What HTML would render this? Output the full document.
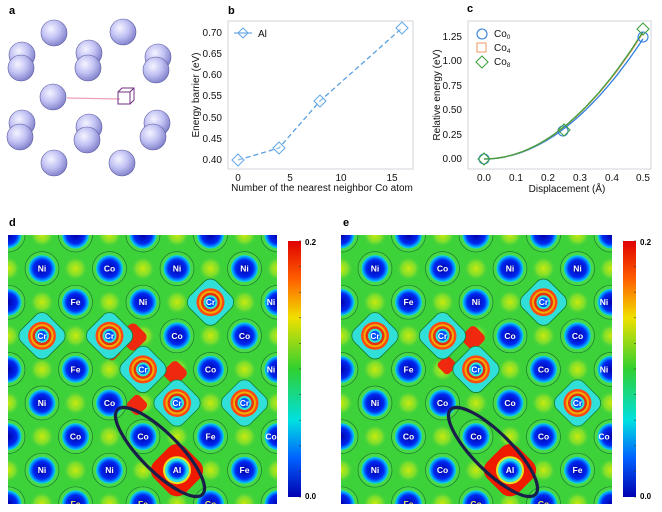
<!DOCTYPE html>
<html><head><meta charset="utf-8"><style>
body{margin:0;background:#fff;}
svg{display:block;font-family:"Liberation Sans",Arial,sans-serif;}
</style></head><body>
<svg id="s" width="662" height="512" viewBox="0 0 662 512" xmlns="http://www.w3.org/2000/svg">
<defs>
<radialGradient id="sph" cx="0.38" cy="0.35" r="0.7">
<stop offset="0" stop-color="#f4f4ff"/><stop offset="0.5" stop-color="#c2c2f4"/><stop offset="1" stop-color="#7c7cc8"/>
</radialGradient>
<radialGradient id="at" cx="0.5" cy="0.5" r="0.5">
<stop offset="0" stop-color="#0000a8"/><stop offset="0.65" stop-color="#0028f0"/><stop offset="0.85" stop-color="#0090ff"/><stop offset="1" stop-color="#10e0e0"/>
</radialGradient>
<radialGradient id="yel" cx="0.5" cy="0.5" r="0.5">
<stop offset="0" stop-color="#f0f000"/><stop offset="0.6" stop-color="#b0e820" stop-opacity="0.7"/><stop offset="1" stop-color="#40d040" stop-opacity="0"/>
</radialGradient>
<linearGradient id="cb" x1="0" y1="0" x2="0" y2="1">
<stop offset="0" stop-color="#e00000"/><stop offset="0.15" stop-color="#ff6000"/><stop offset="0.3" stop-color="#f0e000"/><stop offset="0.5" stop-color="#30d030"/><stop offset="0.7" stop-color="#00e0e0"/><stop offset="0.85" stop-color="#0060ff"/><stop offset="1" stop-color="#0000b0"/>
</linearGradient>
<clipPath id="cd"><rect x="8" y="235" width="269" height="269"/></clipPath>
<clipPath id="ce"><rect x="341" y="235" width="271" height="269"/></clipPath>
</defs>

<g font-weight="bold" font-size="11" fill="#000">
<text x="9" y="14">a</text><text x="228" y="14">b</text><text x="467" y="12">c</text>
<text x="9" y="226">d</text><text x="343" y="226">e</text>
</g>

<g id="pa" stroke="#5a5aa0" stroke-width="0.6"></g>
<line x1="67" y1="98" x2="120" y2="99" stroke="#f0a0b8" stroke-width="1.2"/>
<g fill="none" stroke="#703080" stroke-width="1">
<rect x="118" y="92" width="12" height="12"/><path d="M118 92 L122 88 L134 88 L134 100 L130 104 M130 92 L134 88"/>
</g>

<g font-size="10" fill="#111">
<rect x="228" y="21" width="185" height="148" fill="none" stroke="#d0d4dc" stroke-width="1"/>
<g text-anchor="end">
<text x="222" y="36">0.70</text><text x="222" y="57">0.65</text><text x="222" y="78">0.60</text><text x="222" y="99">0.55</text><text x="222" y="121">0.50</text><text x="222" y="142">0.45</text><text x="222" y="163">0.40</text>
</g>
<g text-anchor="middle">
<text x="238" y="181">0</text><text x="290" y="181">5</text><text x="341" y="181">10</text><text x="392" y="181">15</text>
<text x="322" y="191">Number of the nearest neighbor Co atom</text>
<text transform="translate(199,95) rotate(-90)">Energy barrier (eV)</text>
</g>
<polyline points="238,160 279,148 320,101 402,28" fill="none" stroke="#5aa0e0" stroke-width="1.3" stroke-dasharray="5,3"/>
<g fill="#fff" fill-opacity="0.3" stroke="#6aaae8" stroke-width="1.1">
<path d="M238 154 L244 160 L238 166 L232 160Z"/><path d="M279 142 L285 148 L279 154 L273 148Z"/><path d="M320 95 L326 101 L320 107 L314 101Z"/><path d="M402 22 L408 28 L402 34 L396 28Z"/>
<path d="M243 28 L248 33 L243 38 L238 33Z"/>
</g>
<line x1="234" y1="33" x2="252" y2="33" stroke="#6aaae8" stroke-width="1.2"/>
<text x="258" y="37">Al</text>
</g>

<g font-size="10" fill="#111">
<rect x="468" y="21" width="183" height="148" fill="none" stroke="#d0d4dc" stroke-width="1"/>
<g text-anchor="end">
<text x="462" y="40">1.25</text><text x="462" y="64">1.00</text><text x="462" y="89">0.75</text><text x="462" y="113">0.50</text><text x="462" y="138">0.25</text><text x="462" y="162">0.00</text>
</g>
<g text-anchor="middle">
<text x="484" y="181">0.0</text><text x="516" y="181">0.1</text><text x="548" y="181">0.2</text><text x="580" y="181">0.3</text><text x="612" y="181">0.4</text><text x="643" y="181">0.5</text>
<text x="567" y="192">Displacement (Å)</text>
<text transform="translate(440,95) rotate(-90)">Relative energy (eV)</text>
</g>
<path id="cblue" fill="none" stroke="#2f7fe0" stroke-width="1.3"/>
<path id="cor" fill="none" stroke="#e89050" stroke-width="1.3"/>
<path id="cgr" fill="none" stroke="#40a040" stroke-width="1.3"/>
<g fill="none" stroke-width="1.1">
<circle cx="484" cy="159" r="5" stroke="#2f7fe0"/><circle cx="563" cy="131" r="5" stroke="#2f7fe0"/><circle cx="643" cy="37" r="5" stroke="#2f7fe0"/>
<path d="M484 153 L490 159 L484 165 L478 159Z M564 124 L570 130 L564 136 L558 130Z M643 23 L649 29 L643 35 L637 29Z" stroke="#40a040"/>
<circle cx="482" cy="34" r="5" stroke="#2f7fe0"/><rect x="477" y="43" width="9" height="9" stroke="#f0a070"/><path d="M482 56 L488 62 L482 68 L476 62Z" stroke="#40a040"/>
</g>
<text x="494" y="37">Co<tspan font-size="6.5" dy="2">0</tspan></text>
<text x="494" y="51">Co<tspan font-size="6.5" dy="2">4</tspan></text>
<text x="494" y="65">Co<tspan font-size="6.5" dy="2">8</tspan></text>
</g>

<g id="pd" clip-path="url(#cd)"></g>
<g id="pe" clip-path="url(#ce)"></g>

<rect x="288" y="241" width="13" height="256" fill="url(#cb)"/>
<rect x="623" y="241" width="13" height="256" fill="url(#cb)"/>
<g font-size="8" font-weight="bold" fill="#000">
<text x="305" y="245">0.2</text><text x="305" y="499">0.0</text>
<text x="640" y="245">0.2</text><text x="640" y="499">0.0</text>
</g>
<g id="cbt" stroke="#333" stroke-width="0.6"></g>
</svg>
<script>
const NS="http://www.w3.org/2000/svg";
function el(p,t,a,txt){const e=document.createElementNS(NS,t);for(const k in a)e.setAttribute(k,a[k]);if(txt)e.textContent=txt;p.appendChild(e);return e;}
const pa=document.getElementById('pa');
[[54,33],[123,32],[22,55],[89,53],[158,57],[21,68],[88,68],[156,70],[53,97],[22,123],[89,127],[157,123],[20,137],[87,140],[153,137],[54,163],[122,163]].forEach(p=>el(pa,'circle',{cx:p[0],cy:p[1],r:13,fill:'url(#sph)'}));
function curve(id,a){let d='';for(let i=0;i<=50;i++){const x=i*0.01;const px=484+x*318,py=159-(a*x*x)*98;d+=(i?'L':'M')+px.toFixed(1)+' '+py.toFixed(1);}document.getElementById(id).setAttribute('d',d);}
curve('cblue',4.9);curve('cor',5.15);curve('cgr',5.2);
const cbt=document.getElementById('cbt');
for(let i=0;i<=10;i++){const y=241+i*25.6;el(cbt,'line',{x1:299,y1:y,x2:301,y2:y});el(cbt,'line',{x1:634,y1:y,x2:636,y2:y});}
function panel(id,ox,rows,reds){
 const g=document.getElementById(id);
 el(g,'rect',{x:ox+8,y:235,width:271,height:270,fill:'#3ed23a'});
 for(let r=0;r<=8;r++){const y=235+33.6*r;const odd=r%2;for(let j=0;j<5;j++){const x=ox+(odd?8+67.5*j:42+67.5*j);el(g,'ellipse',{cx:x,cy:y,rx:12,ry:12,fill:'url(#yel)','fill-opacity':0.8});}}
 reds.forEach(p=>el(g,'rect',{x:ox+p[0]-p[2]*0.7,y:p[1]-p[2]*0.7,width:p[2]*1.4,height:p[2]*1.4,rx:p[2]*0.35,transform:`rotate(45 ${ox+p[0]} ${p[1]})`,fill:'#f02810'}));
 for(let r=0;r<=8;r++){const y=235+33.6*r;const odd=r%2;const row=rows[r]||[];
  for(let j=0;j<5;j++){const x=ox+(odd?42+67.5*j:8+67.5*j);if(odd&&j==4)continue;const lab=row[j]||'';
   if(lab==='Cr'){
    el(g,'rect',{x:x-19,y:y-19,width:38,height:38,rx:9,transform:`rotate(45 ${x} ${y})`,fill:'#30e0d8',stroke:'#1a7a2a','stroke-width':0.8});
    el(g,'circle',{cx:x,cy:y,r:14,fill:'#ff4a10'});el(g,'circle',{cx:x,cy:y,r:11.5,fill:'#f0b000'});
    el(g,'circle',{cx:x,cy:y,r:9.5,fill:'#e83010'});el(g,'circle',{cx:x,cy:y,r:7,fill:'#30e8d0'});el(g,'circle',{cx:x,cy:y,r:5,fill:'#0050ff'});
   }else if(lab==='Al'){
    el(g,'rect',{x:x-22,y:y-22,width:44,height:44,rx:12,transform:`rotate(45 ${x} ${y})`,fill:'#f01a00'});
    el(g,'circle',{cx:x,cy:y,r:14,fill:'#e8e020'});el(g,'circle',{cx:x,cy:y,r:12,fill:'#30e0e0'});el(g,'circle',{cx:x,cy:y,r:10,fill:'url(#at)'});
   }else{
    el(g,'circle',{cx:x,cy:y,r:17,fill:'#48d848',stroke:'#1a7a2a','stroke-width':0.7});
    el(g,'circle',{cx:x,cy:y,r:13.5,fill:'url(#at)'});
   }
   if(lab){const tx=(j==4&&!odd)?x-7:x;el(g,'text',{x:tx,y:y+3,'text-anchor':'middle','font-size':8.5,'font-weight':'bold',fill:(r==8?'#f0f060':'#fff')},lab);}
  }}
 el(g,'ellipse',{cx:ox+160,cy:452,rx:60,ry:19,transform:`rotate(45 ${ox+160} 452)`,fill:'none',stroke:'#1a1f4a','stroke-width':3.2});
}
panel('pd',0,[[],['Ni','Co','Ni','Ni'],['','Fe','Ni','Cr','Ni'],['Cr','Cr','Co','Co'],['','Fe','Cr','Co','Ni'],['Ni','Co','Cr','Cr'],['','Co','Co','Fe','Co'],['Ni','Ni','Al','Fe'],['','Fe','Fe','Co']],[[133,337,16],[175,373,14],[137,405,12],[112,352,10]]);
panel('pe',333,[[],['Ni','Co','Ni','Ni'],['','Fe','Ni','Cr','Ni'],['Cr','Cr','Co','Co'],['','Fe','Cr','Co','Ni'],['Ni','Co','Co','Cr'],['','Co','Co','Co','Co'],['Ni','Co','Al','Fe'],['','Fe','Co','Co']],[[140,338,14],[114,365,11]]);
</script>
</body></html>
